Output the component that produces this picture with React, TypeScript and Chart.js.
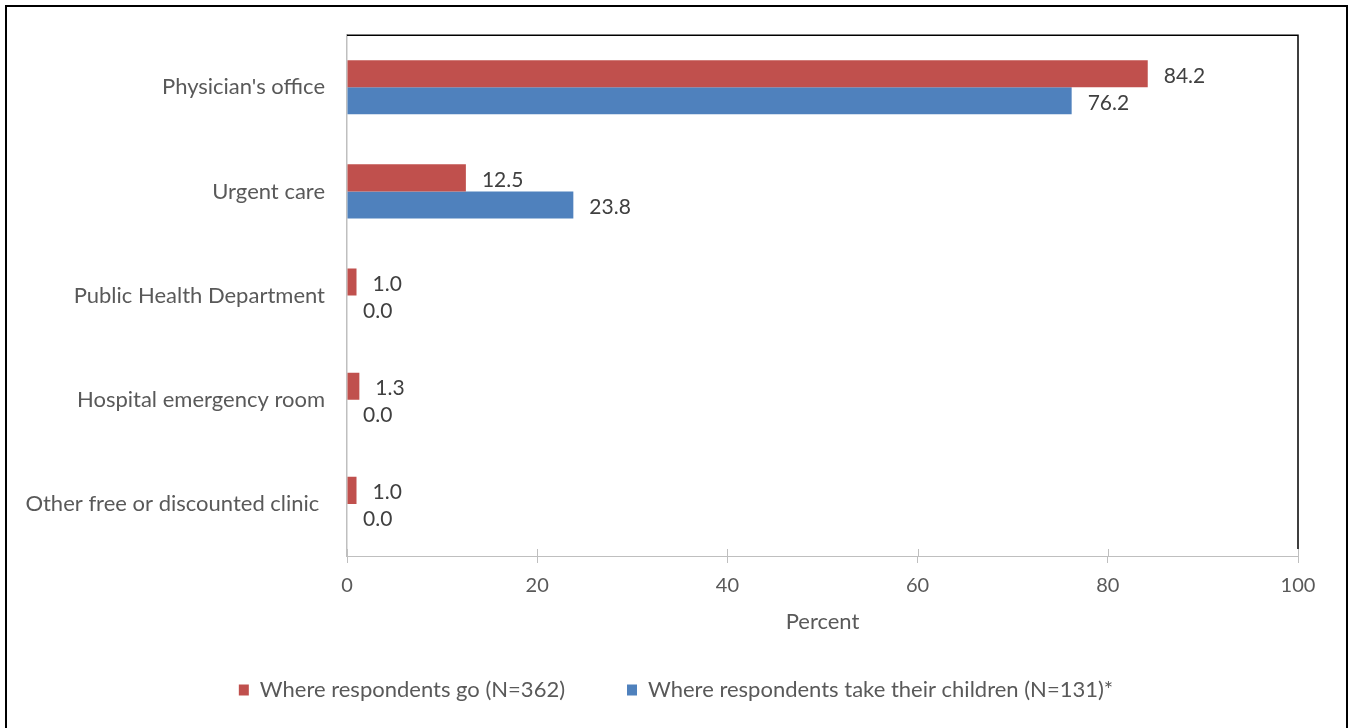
import React, { useEffect, useRef } from "react";
import { Chart, registerables } from "chart.js";

Chart.register(...registerables);

const categories = [
  "Physician's office",
  "Urgent care",
  "Public Health Department",
  "Hospital emergency room",
  "Other free or discounted clinic ",
];
const respondentsGo = [84.2, 12.5, 1.0, 1.3, 1.0];
const respondentsChildren = [76.2, 23.8, 0.0, 0.0, 0.0];
const seriesLabels = [
  "Where respondents go (N=362)",
  "Where respondents take their children (N=131)*",
];
const seriesColors = ["#C0504D", "#4F81BD"];
const xTicks = [0, 20, 40, 60, 80, 100];
const axisTitle = "Percent";

const FONT = "Lato, 'Noto Sans', sans-serif";
const LEGEND_SHIFT = 27;

const decorPlugin = {
  id: "decor",
  afterLayout(chart: any) {
    if (chart.legend) {
      chart.legend.left += LEGEND_SHIFT;
      chart.legend.right += LEGEND_SHIFT;
    }
  },
  beforeDatasetsDraw(chart: any) {
    const { ctx, chartArea, scales } = chart;
    const x = scales.x;
    ctx.save();
    ctx.strokeStyle = "#BFBFBF";
    ctx.lineWidth = 1;
    xTicks.forEach((v) => {
      const px = Math.round(x.getPixelForValue(v)) + 0.5;
      ctx.beginPath();
      ctx.moveTo(px, chartArea.bottom - 7);
      ctx.lineTo(px, chartArea.bottom);
      ctx.stroke();
    });
    ctx.restore();
  },
  afterDatasetsDraw(chart: any) {
    const { ctx } = chart;
    ctx.save();
    ctx.font = `21px ${FONT}`;
    ctx.fillStyle = "#404040";
    ctx.textAlign = "left";
    ctx.textBaseline = "middle";
    chart.data.datasets.forEach((ds: any, di: number) => {
      const meta = chart.getDatasetMeta(di);
      meta.data.forEach((bar: any, i: number) => {
        const v = ds.data[i] as number;
        ctx.fillText(v.toFixed(1), bar.x + 16, bar.y + 2);
      });
    });
    ctx.restore();
  },
  afterDraw(chart: any) {
    const { ctx, chartArea } = chart;
    ctx.save();
    ctx.strokeStyle = "#000000";
    ctx.lineWidth = 1.5;
    ctx.beginPath();
    ctx.moveTo(chartArea.left, chartArea.top);
    ctx.lineTo(chartArea.right, chartArea.top);
    ctx.lineTo(chartArea.right, chartArea.bottom - 7);
    ctx.stroke();
    ctx.lineWidth = 2;
    ctx.strokeRect(6, 6, 1341, 800);
    ctx.restore();
  },
};

export default function App() {
  const canvasRef = useRef<HTMLCanvasElement | null>(null);

  useEffect(() => {
    if (!canvasRef.current) return;
    const chart = new Chart(canvasRef.current, {
      type: "bar",
      data: {
        labels: categories,
        datasets: [
          {
            label: seriesLabels[0],
            data: respondentsGo,
            backgroundColor: seriesColors[0],
            borderWidth: 0,
            categoryPercentage: 0.52,
            barPercentage: 1.0,
          },
          {
            label: seriesLabels[1],
            data: respondentsChildren,
            backgroundColor: seriesColors[1],
            borderWidth: 0,
            categoryPercentage: 0.52,
            barPercentage: 1.0,
          },
        ],
      },
      options: {
        indexAxis: "y",
        responsive: false,
        animation: false,
        devicePixelRatio: 1,
        layout: { padding: { left: 0, right: 53, top: 35, bottom: 17 } },
        plugins: {
          tooltip: { enabled: false },
          legend: {
            position: "bottom",
            labels: {
              boxWidth: 10,
              boxHeight: 11,
              padding: 62,
              color: "#595959",
              font: { family: FONT, size: 22 },
            },
          },
        },
        scales: {
          x: {
            type: "linear",
            min: 0,
            max: 100,
            afterBuildTicks: (s: any) => {
              s.ticks = xTicks.map((v) => ({ value: v }));
            },
            afterFit: (s: any) => {
              s.height = 61;
            },
            grid: {
              drawOnChartArea: false,
              drawTicks: true,
              tickLength: 7,
              color: "#BFBFBF",
            },
            border: { color: "#BFBFBF", width: 1 },
            ticks: {
              padding: 11,
              color: "#595959",
              font: { family: FONT, size: 20 },
            },
            title: {
              display: true,
              text: axisTitle,
              color: "#595959",
              font: { family: FONT, size: 22 },
              padding: { top: 0, bottom: -18 },
            },
          },
          y: {
            type: "category",
            afterFit: (s: any) => {
              s.width = 347;
            },
            grid: { display: false, drawTicks: false },
            border: { color: "#BFBFBF", width: 1.5 },
            ticks: {
              padding: 22,
              color: "#595959",
              font: { family: FONT, size: 22 },
            },
          },
        },
      },
      plugins: [decorPlugin],
    });
    return () => chart.destroy();
  }, []);

  return (
    <div
      style={{
        position: "fixed",
        left: 0,
        top: 0,
        width: 1351,
        height: 728,
        background: "#ffffff",
      }}
    >
      <canvas ref={canvasRef} width={1351} height={728} />
    </div>
  );
}
